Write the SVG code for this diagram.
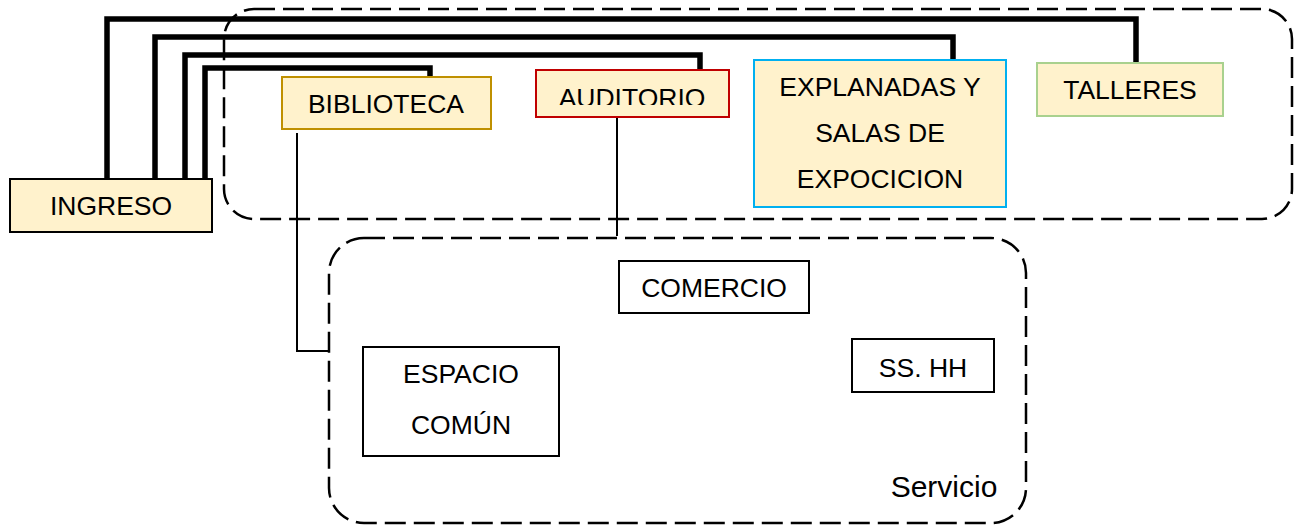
<svg xmlns="http://www.w3.org/2000/svg" width="1294" height="525" viewBox="0 0 1294 525">
<style>
.zone{fill:none;stroke:#000;stroke-width:2.5;stroke-dasharray:21 8}
.box{fill:#FFF2CC;stroke-width:2}
.wbox{fill:#fff;stroke:#000;stroke-width:2}
.t{font-family:"Liberation Sans",Arial,sans-serif;font-size:26.5px;fill:#000;text-anchor:middle}
.thick{fill:none;stroke:#000;stroke-width:5.5;stroke-linejoin:miter}
.thin{fill:none;stroke:#000;stroke-width:2}
</style>
<defs>
<clipPath id="audClip"><rect x="536" y="70" width="193" height="35"/></clipPath>
</defs>
<rect class="zone" x="224" y="9" width="1068" height="210" rx="30"/>
<rect class="zone" x="329" y="238" width="697" height="285" rx="35"/>
<text class="t" x="944" y="497" style="font-size:30px">Servicio</text>
<g id="connectors">
<path class="thick" d="M107,179 V19 H1136 V63"/>
<path class="thick" d="M155,179 V37 H953 V60"/>
<path class="thick" d="M185,179 V55 H700 V70"/>
<path class="thick" d="M205,179 V68 H430 V77"/>
<path class="thin" d="M297,133 V351 H329"/>
<path class="thin" d="M617,117 V236"/>
</g>
<g id="ingreso">
<rect class="box" x="10" y="179" width="202" height="53" stroke="#000"/>
<text class="t" x="111" y="215">INGRESO</text>
</g>
<g id="biblioteca">
<rect class="box" x="282" y="77" width="209" height="52" stroke="#BF9000"/>
<text class="t" x="386" y="113">BIBLIOTECA</text>
</g>
<g id="auditorio">
<rect class="box" x="536" y="70" width="193" height="47" stroke="#C00000"/>
<text class="t" x="632" y="107" clip-path="url(#audClip)">AUDITORIO</text>
</g>
<g id="explanadas">
<rect class="box" x="754" y="60" width="252" height="147" stroke="#00B0F0"/>
<text class="t" x="880" y="96">EXPLANADAS Y</text>
<text class="t" x="880" y="142">SALAS DE</text>
<text class="t" x="880" y="188">EXPOCICION</text>
</g>
<g id="talleres">
<rect class="box" x="1037" y="63" width="186" height="53" stroke="#A9D18E"/>
<text class="t" x="1130" y="99">TALLERES</text>
</g>
<g id="comercio">
<rect class="wbox" x="619" y="261" width="190" height="52"/>
<text class="t" x="714" y="297">COMERCIO</text>
</g>
<g id="espacio">
<rect class="wbox" x="363" y="347" width="196" height="109"/>
<text class="t" x="461" y="383">ESPACIO</text>
<text class="t" x="461" y="434">COMÚN</text>
</g>
<g id="sshh">
<rect class="wbox" x="852" y="339" width="142" height="53"/>
<text class="t" x="923" y="377">SS. HH</text>
</g>
</svg>
